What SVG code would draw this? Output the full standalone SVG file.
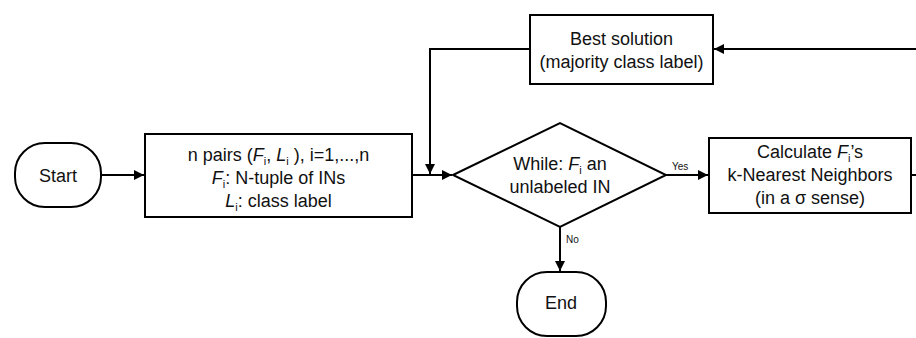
<svg xmlns="http://www.w3.org/2000/svg" width="916" height="338" viewBox="0 0 916 338">
<style>
.s{fill:#fff;stroke:#000;stroke-width:2}
.c{fill:none;stroke:#000;stroke-width:2}
text{font-family:"Liberation Sans",Arial,sans-serif;font-size:18px;fill:#111;text-anchor:middle}
.sm{font-size:10px;text-anchor:start}
.i{font-style:italic}
.sb{font-size:11px}
</style>
<defs>
<marker id="a" viewBox="0 0 10 10" refX="10" refY="5" markerWidth="11" markerHeight="10" markerUnits="userSpaceOnUse" orient="auto">
<path d="M0,0 L10,5 L0,10 Z" fill="#000"/>
</marker>
</defs>
<rect width="916" height="338" fill="#fff"/>
<g id="connectors">
<path class="c" d="M101,175 H144" marker-end="url(#a)"/>
<path class="c" d="M412,175 H452" marker-end="url(#a)"/>
<path class="c" d="M530,49 H430 V174" marker-end="url(#a)"/>
<path class="c" d="M666,175 H708" marker-end="url(#a)"/>
<path class="c" d="M916,49 H714" marker-end="url(#a)"/>
<path class="c" d="M911,175 H916"/>
<path class="c" d="M560,227 V271" marker-end="url(#a)"/>
<text class="sm" x="672" y="170">Yes</text>
<text class="sm" x="566" y="243">No</text>
</g>
<g id="start">
<rect class="s" x="15" y="143" width="86" height="64" rx="30" ry="30"/>
<text x="58" y="182">Start</text>
</g>
<g id="input">
<rect class="s" x="145" y="134" width="267" height="83"/>
<text x="278.5" y="161">n pairs (<tspan class="i">F</tspan><tspan class="sb" dy="4">i</tspan><tspan dy="-4">, </tspan><tspan class="i">L</tspan><tspan class="sb" dy="4">i</tspan><tspan dy="-4"> ), i=1,...,n</tspan></text>
<text x="278.5" y="184"><tspan class="i">F</tspan><tspan class="sb" dy="4">i</tspan><tspan dy="-4">: N-tuple of INs</tspan></text>
<text x="278.5" y="207"><tspan class="i">L</tspan><tspan class="sb" dy="4">i</tspan><tspan dy="-4">: class label</tspan></text>
</g>
<g id="best">
<rect class="s" x="530" y="15" width="183" height="69"/>
<text x="621.5" y="45">Best solution</text>
<text x="621.5" y="68">(majority class label)</text>
</g>
<g id="while">
<path class="s" d="M453,175 L560,123 L666,175 L560,227 Z"/>
<text x="560" y="170">While: <tspan class="i">F</tspan><tspan class="sb" dy="4">i</tspan><tspan dy="-4"> an</tspan></text>
<text x="560" y="193">unlabeled IN</text>
</g>
<g id="calc">
<rect class="s" x="709" y="138" width="202" height="75"/>
<text x="810" y="158">Calculate <tspan class="i">F</tspan><tspan class="sb" dy="4">i</tspan><tspan dy="-4">’s</tspan></text>
<text x="810" y="181">k-Nearest Neighbors</text>
<text x="810" y="204">(in a σ sense)</text>
</g>
<g id="end">
<rect class="s" x="517" y="272" width="89" height="64" rx="30" ry="30"/>
<text x="561" y="309">End</text>
</g>
</svg>
